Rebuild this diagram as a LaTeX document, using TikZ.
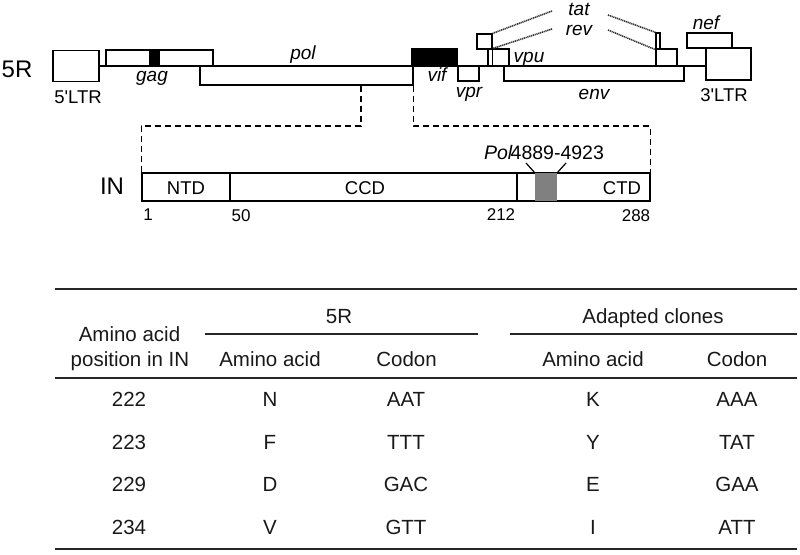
\documentclass[tikz,border=0pt]{standalone}
\usepackage{fontspec}
\setmainfont{Liberation Sans}
\usetikzlibrary{calc}
\begin{document}
\begin{tikzpicture}[x=1pt,y=-1pt,
  gbox/.style 2 args={draw,fill=white,line width=1.3pt,inner sep=0pt,minimum width=#1,minimum height=#2},
  bbox/.style 2 args={draw,fill=black,line width=1.3pt,inner sep=0pt,minimum width=#1,minimum height=#2},
  gline/.style={line width=1.3pt},
  glab/.style={font=\fontsize{19}{21}\selectfont\itshape,anchor=base,inner sep=0pt},
  nlab/.style={font=\fontsize{18.5}{21}\selectfont,anchor=base,inner sep=0pt},
  big/.style={font=\fontsize{24}{26}\selectfont,anchor=base,inner sep=0pt},
  num/.style={font=\fontsize{17}{19}\selectfont,anchor=base,inner sep=0pt},
  tab/.style={font=\fontsize{20.5}{22}\selectfont,anchor=base,inner sep=0pt,text=black!90},
  dsh/.style={line width=1.2pt,dash pattern=on 6pt off 4pt},
  dot/.style={line width=1.6pt,black!80,dash pattern=on 1.2pt off 0.7pt},
  rule/.style={line width=1.8pt,black!85}]
\useasboundingbox (0,0) rectangle (800,554);

% ---------- genome ----------
\node[gbox={46}{31}] (ltr5) at (76,66) {};
\node[gbox={45}{32}] (ltr3) at (728.5,64) {};
\draw[gline] (ltr5.east) -- (ltr5.east -| ltr3.west);
\node[gbox={107}{16}] (gag) at (159.5,58) {};
\node[bbox={9}{16}] (p17) at (154.5,58) {};
\node[gbox={213}{19}] (pol) at (306.5,75.5) {};
\node[bbox={45}{17}] (vif) at (434.5,57.5) {};
\node[gbox={21}{15}] (vpr) at (468.5,73.5) {};
\node[gbox={15}{15}] (tat1) at (484.5,41.5) {};
\node[gbox={4.5}{17}] (rev1) at (490.25,57.5) {};
\node[gbox={16.5}{17}] (vpu) at (500.75,57.5) {};
\node[gbox={180}{15}] (env) at (594,73.5) {};
\node[gbox={4}{16}] (tat2) at (658,41) {};
\node[gbox={21}{17}] (rev2) at (666.5,57.5) {};
\node[gbox={45}{15}] (nef) at (709.5,40.5) {};

% labels
\node[big] (l5R) at (17,77) {5R};
\node[nlab] (l5ltr) at (78,103.5) {5\textquotesingle LTR};
\node[nlab] (l3ltr) at (724,101.7) {3\textquotesingle LTR};
\node[glab] (lgag) at (152,81) {gag};
\node[glab] (lpol) at (303,59) {pol};
\node[glab] (lvif) at (437,81) {vif};
\node[glab] (lvpr) at (469,97) {vpr};
\node[glab] (lenv) at (594,99) {env};
\node[glab] (lvpu) at (529,62) {vpu};
\node[glab] (ltat) at (579,15) {tat};
\node[glab] (lrev) at (579,35) {rev};
\node[glab] (lnef) at (706,29) {nef};

% dotted splice lines
\coordinate (tatL) at (552,11);
\coordinate (revL) at (552,29);
\coordinate (tatR) at (608,15);
\coordinate (revR) at (608,30);
\draw[dot] (tatL) -- (tat1.north east);
\draw[dot] (revL) -- (rev1.north east);
\draw[dot] (tatR) -- (tat2.north west);
\draw[dot] (revR) -- (tat2.south west);

% ---------- integrase ----------
\node[gbox={508}{28}] (IN) at (396,187) {};
\node[fill=black!50,inner sep=0pt,minimum width=22,minimum height=28] (grey) at (546,187) {};
\draw[line width=1.3pt] (IN.north west) rectangle (IN.south east);
\draw[line width=2.6pt] (230,173) -- (230,201);
\draw[line width=2.6pt] (517,173) -- (517,201);
\coordinate (gl) at (526,163);
\coordinate (gr) at (566,163);
\draw[line width=1.2pt] (grey.north west) -- (gl);
\draw[line width=1.2pt] (grey.north east) -- (gr);
\node[font=\fontsize{19.5}{21}\selectfont,anchor=base,inner sep=0pt] (lpolr) at (544,159) {\textit{Pol}\kern-2pt4889-4923};

\draw[dsh] (pol.south west -| 361,0) -- (361,126) -- (IN.north west |- 0,126) -- (IN.north west);
\draw[dsh] (pol.south east) -- (pol.south east |- 0,126) -- (IN.north east |- 0,126) -- (IN.north east);

\node[big] (lIN) at (112,194) {IN};
\node[nlab] (lntd) at (186,194) {NTD};
\node[nlab] (lccd) at (365,194) {CCD};
\node[nlab] (lctd) at (622,194) {CTD};
\node[num] (n1) at (148,220.7) {1};
\node[num] (n50) at (241,221) {50};
\node[num] (n212) at (501,220) {212};
\node[num] (n288) at (636,221.7) {288};

% ---------- table ----------
\draw[rule] (55,289) -- (797,289);
\draw[rule] (205,334) -- (478,334);
\draw[rule] (510,334) -- (797,334);
\draw[rule] (55,378) -- (797,378);
\draw[rule] (55,549) -- (797,549);

\node[tab] (h5R) at (339,323) {5R};
\node[tab] (hAd) at (653,323) {Adapted clones};
\node[tab] (hA1) at (129.5,341.7) {Amino acid};
\node[tab] (hA2) at (130,366.7) {position in IN};
\node[tab] (hA3) at (270,366.7) {Amino acid};
\node[tab] (hC1) at (406.5,366.7) {Codon};
\node[tab] (hA4) at (593,366.7) {Amino acid};
\node[tab] (hC2) at (737,366.7) {Codon};

\foreach \y/\p/\a/\c/\b/\d in {406.7/222/N/AAT/K/AAA, 449/223/F/TTT/Y/TAT, 491.5/229/D/GAC/E/GAA, 534/234/V/GTT/I/ATT}{
  \node[tab] (r\p a) at (129,\y) {\p};
  \node[tab] (r\p b) at (270,\y) {\a};
  \node[tab] (r\p c) at (406,\y) {\c};
  \node[tab] (r\p d) at (593,\y) {\b};
  \node[tab] (r\p e) at (737,\y) {\d};
}
\end{tikzpicture}
\end{document}
